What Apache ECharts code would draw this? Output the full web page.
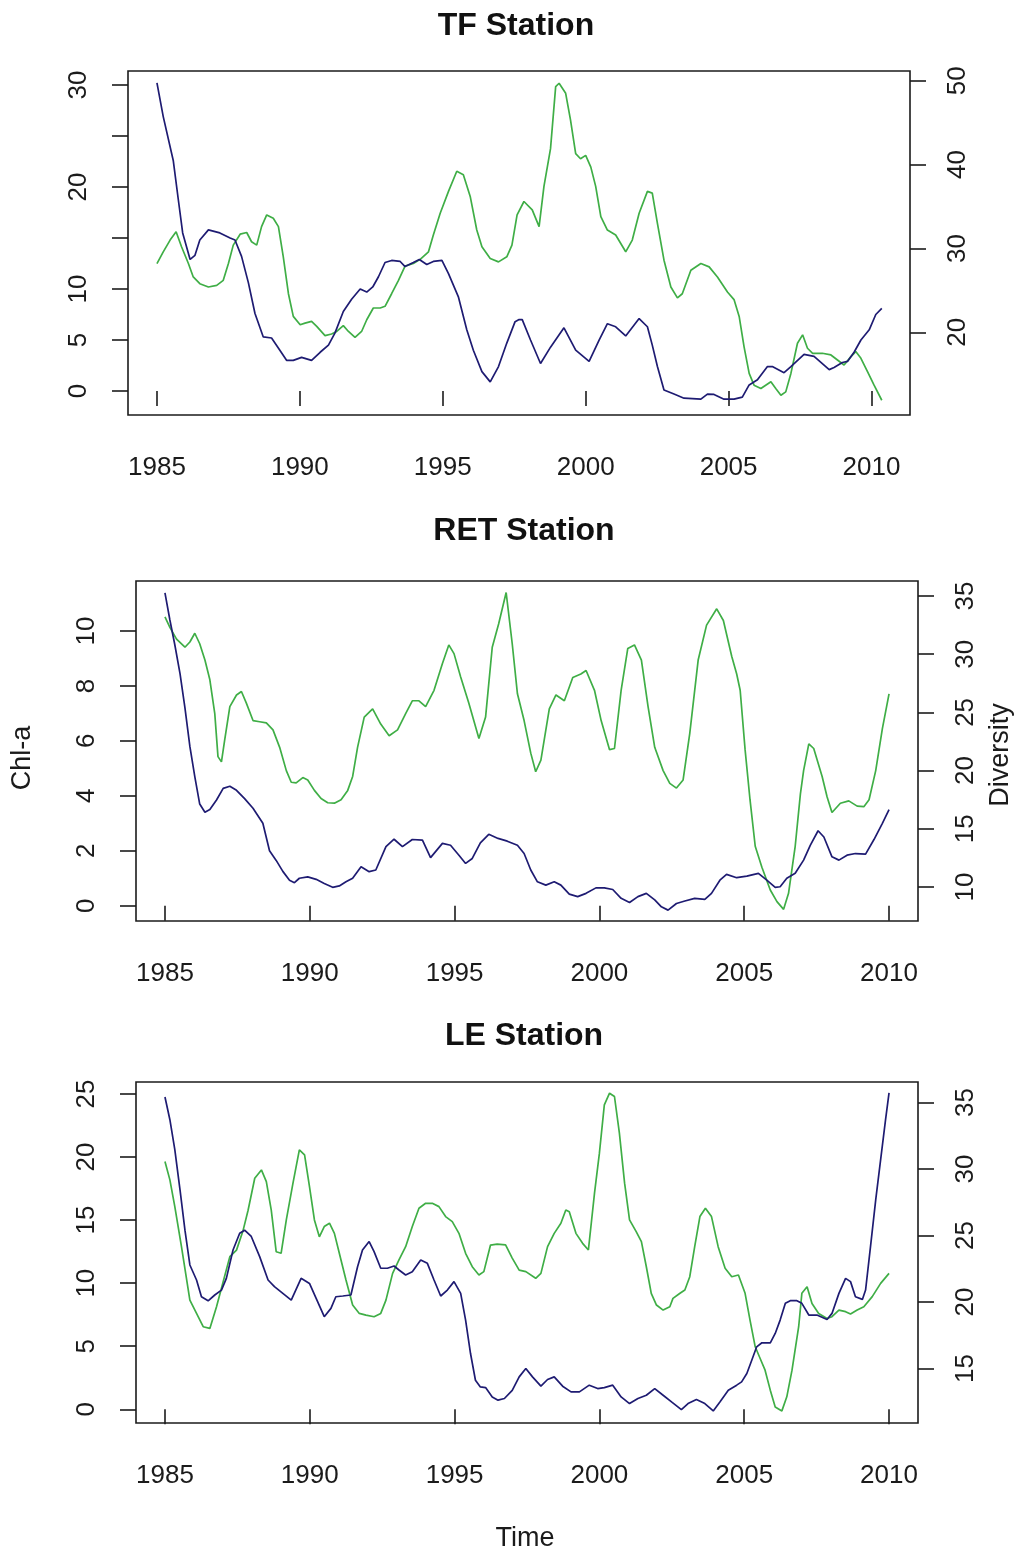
<!DOCTYPE html>
<html>
<head>
<meta charset="utf-8">
<script src="https://cdn.jsdelivr.net/npm/echarts@6/dist/echarts.min.js"></script>
<style>
  html, body { margin: 0; padding: 0; background: #ffffff; }
  #chart { width: 1022px; height: 1556px; }
</style>
</head>
<body>
<div id="chart"></div>
<script>
// ---- tick values ----
const yearTicks = [1985, 1990, 1995, 2000, 2005, 2010];
const tfChlTicks = [0, 5, 10, 15, 20, 25, 30];
const tfChlLabels = [0, 5, 10, 20, 30];
const tfDivTicks = [20, 30, 40, 50];
const retChlTicks = [0, 2, 4, 6, 8, 10];
const retDivTicks = [10, 15, 20, 25, 30, 35];
const leChlTicks = [0, 5, 10, 15, 20, 25];
const leDivTicks = [15, 20, 25, 30, 35];

const stationNames = ['TF Station', 'RET Station', 'LE Station'];

// ---- TF station: [year, value] ----
const tfChla = [
  [1985.0, 30.2], [1985.22, 26.9], [1985.57, 22.6], [1985.75, 18.7], [1985.9, 15.5],
  [1986.16, 12.9], [1986.33, 13.3], [1986.5, 14.8], [1986.8, 15.8], [1987.2, 15.5],
  [1987.56, 15.0], [1987.73, 14.8], [1987.96, 13.2], [1988.2, 10.6], [1988.43, 7.6],
  [1988.72, 5.3], [1989.01, 5.2], [1989.3, 4.0], [1989.54, 3.0], [1989.77, 3.0],
  [1990.06, 3.3], [1990.41, 3.0], [1990.71, 3.8], [1991.0, 4.5], [1991.23, 5.7],
  [1991.52, 7.8], [1991.81, 9.0], [1992.11, 10.0], [1992.34, 9.7], [1992.55, 10.2],
  [1992.75, 11.2], [1992.98, 12.6], [1993.21, 12.8], [1993.51, 12.7], [1993.68, 12.2],
  [1993.97, 12.6], [1994.18, 12.9], [1994.44, 12.4], [1994.67, 12.7], [1994.97, 12.8],
  [1995.2, 11.5], [1995.55, 9.2], [1995.84, 6.0], [1996.07, 4.0], [1996.37, 1.9],
  [1996.66, 0.9], [1996.95, 2.4], [1997.24, 4.7], [1997.53, 6.8], [1997.67, 7.0],
  [1997.78, 7.0], [1998.07, 5.0], [1998.42, 2.7], [1998.77, 4.3], [1999.24, 6.2],
  [1999.65, 4.0], [2000.12, 2.9], [2000.47, 5.0], [2000.76, 6.6], [2001.05, 6.3],
  [2001.4, 5.4], [2001.87, 7.1], [2002.16, 6.3], [2002.33, 4.5], [2002.51, 2.4],
  [2002.74, 0.1], [2003.09, -0.3], [2003.44, -0.7], [2004.03, -0.8], [2004.26, -0.3],
  [2004.49, -0.33], [2004.84, -0.8], [2005.19, -0.8], [2005.48, -0.6], [2005.72, 0.6],
  [2006.01, 1.1], [2006.36, 2.4], [2006.53, 2.4], [2006.94, 1.8], [2007.18, 2.4],
  [2007.64, 3.6], [2007.99, 3.4], [2008.52, 2.1], [2008.69, 2.3], [2008.98, 2.8],
  [2009.16, 2.9], [2009.39, 3.8], [2009.63, 5.0], [2009.92, 6.0], [2010.15, 7.5],
  [2010.36, 8.1]
];
const tfDiversity = [
  [1985.0, 28.2], [1985.22, 29.6], [1985.46, 31.0], [1985.67, 32.0], [1985.86, 30.2],
  [1986.1, 28.2], [1986.27, 26.6], [1986.5, 25.8], [1986.8, 25.4], [1987.09, 25.6],
  [1987.32, 26.2], [1987.5, 28.2], [1987.67, 30.4], [1987.91, 31.7], [1988.14, 31.9],
  [1988.31, 30.8], [1988.49, 30.4], [1988.66, 32.6], [1988.84, 34.0], [1989.07, 33.6],
  [1989.25, 32.6], [1989.42, 29.0], [1989.6, 24.6], [1989.77, 21.9], [1990.01, 20.9],
  [1990.18, 21.1], [1990.41, 21.3], [1990.59, 20.7], [1990.88, 19.6], [1991.11, 19.8],
  [1991.29, 20.1], [1991.52, 20.8], [1991.7, 20.1], [1991.93, 19.4], [1992.16, 20.1],
  [1992.34, 21.5], [1992.57, 22.9], [1992.81, 22.9], [1992.98, 23.1], [1993.21, 24.6],
  [1993.45, 26.2], [1993.68, 27.9], [1993.97, 28.2], [1994.21, 28.7], [1994.5, 29.6],
  [1994.67, 31.6], [1994.91, 34.2], [1995.2, 36.8], [1995.49, 39.2], [1995.72, 38.8],
  [1995.96, 36.2], [1996.19, 32.2], [1996.37, 30.2], [1996.66, 28.8], [1996.95, 28.4],
  [1997.24, 29.0], [1997.42, 30.4], [1997.6, 34.0], [1997.84, 35.6], [1998.13, 34.6],
  [1998.37, 32.6], [1998.54, 37.4], [1998.77, 41.9], [1998.95, 49.3], [1999.07, 49.7],
  [1999.3, 48.5], [1999.47, 45.3], [1999.65, 41.3], [1999.82, 40.7], [2000.0, 41.1],
  [2000.18, 39.7], [2000.35, 37.4], [2000.53, 33.8], [2000.76, 32.2], [2001.05, 31.6],
  [2001.4, 29.6], [2001.63, 31.0], [2001.87, 34.2], [2002.16, 36.8], [2002.33, 36.6],
  [2002.51, 33.0], [2002.74, 28.6], [2002.98, 25.4], [2003.21, 24.1], [2003.38, 24.6],
  [2003.68, 27.4], [2004.03, 28.2], [2004.32, 27.8], [2004.61, 26.6], [2004.96, 24.8],
  [2005.19, 23.9], [2005.37, 21.9], [2005.54, 18.3], [2005.72, 15.1], [2005.89, 13.7],
  [2006.13, 13.3], [2006.48, 14.1], [2006.65, 13.3], [2006.83, 12.5], [2007.0, 12.9],
  [2007.18, 15.1], [2007.41, 18.7], [2007.59, 19.7], [2007.76, 18.1], [2007.94, 17.5],
  [2008.28, 17.5], [2008.58, 17.3], [2008.81, 16.7], [2009.04, 16.1], [2009.28, 17.1],
  [2009.45, 17.7], [2009.63, 16.9], [2009.86, 15.3], [2010.09, 13.7], [2010.36, 11.9]
];

// ---- RET station ----
const retChla = [
  [1985.0, 11.39], [1985.17, 10.4], [1985.34, 9.5], [1985.52, 8.45], [1985.69, 7.2],
  [1985.86, 5.8], [1986.03, 4.7], [1986.2, 3.7], [1986.38, 3.4], [1986.55, 3.5],
  [1986.78, 3.85], [1987.01, 4.27], [1987.24, 4.35], [1987.47, 4.2], [1987.75, 3.9],
  [1988.04, 3.55], [1988.38, 3.0], [1988.61, 2.0], [1988.84, 1.65], [1989.07, 1.25],
  [1989.3, 0.93], [1989.47, 0.84], [1989.64, 1.0], [1989.93, 1.05], [1990.22, 0.96],
  [1990.5, 0.81], [1990.79, 0.67], [1991.02, 0.72], [1991.25, 0.87], [1991.48, 1.0],
  [1991.77, 1.42], [1992.05, 1.24], [1992.28, 1.3], [1992.63, 2.15], [1992.91, 2.42],
  [1993.2, 2.15], [1993.54, 2.41], [1993.89, 2.39], [1994.17, 1.75], [1994.58, 2.27],
  [1994.86, 2.2], [1995.15, 1.84], [1995.38, 1.54], [1995.61, 1.72], [1995.89, 2.29],
  [1996.18, 2.6], [1996.5, 2.45], [1996.82, 2.35], [1997.17, 2.2], [1997.4, 1.9],
  [1997.63, 1.3], [1997.86, 0.87], [1998.15, 0.75], [1998.44, 0.87], [1998.67, 0.75],
  [1998.96, 0.42], [1999.25, 0.33], [1999.54, 0.45], [1999.88, 0.65], [2000.17, 0.65],
  [2000.46, 0.59], [2000.75, 0.27], [2001.04, 0.12], [2001.33, 0.33], [2001.62, 0.45],
  [2001.91, 0.21], [2002.14, -0.04], [2002.37, -0.16], [2002.66, 0.08], [2002.95, 0.17],
  [2003.29, 0.27], [2003.64, 0.23], [2003.87, 0.45], [2004.16, 0.93], [2004.39, 1.14],
  [2004.74, 1.02], [2005.09, 1.08], [2005.49, 1.18], [2005.78, 0.93], [2006.07, 0.67],
  [2006.24, 0.69], [2006.47, 1.0], [2006.76, 1.18], [2007.05, 1.66], [2007.28, 2.2],
  [2007.55, 2.73], [2007.75, 2.5], [2008.03, 1.78], [2008.27, 1.66], [2008.55, 1.84],
  [2008.84, 1.9], [2009.19, 1.88], [2009.48, 2.41], [2009.77, 3.0], [2010.0, 3.5]
];
const retDiversity = [
  [1985.0, 33.2], [1985.17, 32.3], [1985.4, 31.3], [1985.69, 30.6], [1985.86, 31.05],
  [1986.03, 31.8], [1986.2, 30.9], [1986.38, 29.5], [1986.55, 27.8], [1986.72, 24.9],
  [1986.83, 21.2], [1986.95, 20.75], [1987.06, 22.6], [1987.24, 25.5], [1987.47, 26.5],
  [1987.64, 26.8], [1987.81, 25.8], [1988.04, 24.3], [1988.27, 24.2], [1988.5, 24.1],
  [1988.73, 23.5], [1988.96, 22.0], [1989.19, 20.0], [1989.36, 19.0], [1989.53, 18.95],
  [1989.76, 19.4], [1989.93, 19.2], [1990.16, 18.3], [1990.39, 17.6], [1990.62, 17.24],
  [1990.85, 17.2], [1991.08, 17.5], [1991.31, 18.3], [1991.48, 19.5], [1991.65, 22.0],
  [1991.88, 24.6], [1992.17, 25.3], [1992.45, 24.0], [1992.74, 23.0], [1993.03, 23.5],
  [1993.31, 24.9], [1993.54, 26.0], [1993.77, 26.0], [1994.0, 25.5], [1994.29, 26.9],
  [1994.58, 29.2], [1994.8, 30.8], [1994.98, 30.05], [1995.21, 28.05], [1995.49, 25.8],
  [1995.84, 22.75], [1996.07, 24.6], [1996.3, 30.6], [1996.52, 32.6], [1996.78, 35.3],
  [1996.99, 30.9], [1997.17, 26.6], [1997.4, 24.3], [1997.63, 21.5], [1997.8, 19.9],
  [1997.98, 20.9], [1998.27, 25.3], [1998.5, 26.5], [1998.79, 26.0], [1999.08, 28.0],
  [1999.36, 28.3], [1999.54, 28.6], [1999.83, 26.9], [2000.06, 24.3], [2000.35, 21.8],
  [2000.52, 21.9], [2000.75, 26.9], [2000.98, 30.5], [2001.21, 30.8], [2001.45, 29.5],
  [2001.68, 25.5], [2001.91, 22.0], [2002.2, 20.0], [2002.43, 18.9], [2002.66, 18.5],
  [2002.89, 19.2], [2003.12, 23.2], [2003.41, 29.5], [2003.7, 32.5], [2004.05, 33.9],
  [2004.28, 32.9], [2004.57, 29.8], [2004.74, 28.3], [2004.86, 26.9], [2005.03, 21.8],
  [2005.2, 17.5], [2005.38, 13.5], [2005.61, 11.7], [2005.9, 9.74], [2006.13, 8.74],
  [2006.36, 8.08], [2006.53, 9.46], [2006.76, 13.5], [2006.94, 18.0], [2007.05, 20.0],
  [2007.23, 22.3], [2007.4, 21.9], [2007.69, 19.5], [2007.86, 17.75], [2008.03, 16.4],
  [2008.32, 17.2], [2008.61, 17.4], [2008.9, 16.95], [2009.13, 16.9], [2009.31, 17.5],
  [2009.54, 20.0], [2009.77, 23.6], [2010.0, 26.6]
];

// ---- LE station ----
const leChla = [
  [1985.0, 24.76], [1985.17, 22.96], [1985.34, 20.58], [1985.52, 17.4], [1985.69, 14.2],
  [1985.86, 11.44], [1986.09, 10.25], [1986.26, 8.92], [1986.49, 8.6], [1986.72, 9.06],
  [1986.95, 9.45], [1987.12, 10.38], [1987.35, 12.63], [1987.58, 13.96], [1987.75, 14.2],
  [1987.98, 13.7], [1988.27, 12.1], [1988.56, 10.25], [1988.78, 9.72], [1989.07, 9.19],
  [1989.36, 8.66], [1989.7, 10.38], [1989.99, 9.98], [1990.22, 8.79], [1990.5, 7.34],
  [1990.73, 8.0], [1990.9, 8.92], [1991.14, 8.98], [1991.42, 9.06], [1991.65, 11.3],
  [1991.82, 12.63], [1992.05, 13.3], [1992.22, 12.5], [1992.45, 11.18], [1992.68, 11.18],
  [1992.91, 11.36], [1993.08, 11.04], [1993.31, 10.65], [1993.54, 10.9], [1993.83, 11.84],
  [1994.06, 11.57], [1994.29, 10.25], [1994.52, 8.98], [1994.75, 9.45], [1994.98, 10.12],
  [1995.21, 9.19], [1995.38, 7.07], [1995.55, 4.42], [1995.72, 2.3], [1995.89, 1.77],
  [1996.07, 1.72], [1996.3, 0.98], [1996.5, 0.72], [1996.72, 0.85], [1996.99, 1.5],
  [1997.23, 2.57], [1997.46, 3.23], [1997.69, 2.57], [1997.98, 1.83], [1998.21, 2.36],
  [1998.44, 2.57], [1998.73, 1.83], [1999.02, 1.38], [1999.31, 1.38], [1999.65, 1.91],
  [1999.94, 1.64], [2000.17, 1.72], [2000.46, 1.91], [2000.75, 0.98], [2001.04, 0.45],
  [2001.33, 0.85], [2001.62, 1.11], [2001.91, 1.64], [2002.2, 1.11], [2002.49, 0.58],
  [2002.83, -0.03], [2003.06, 0.45], [2003.35, 0.77], [2003.64, 0.45], [2003.93, -0.13],
  [2004.16, 0.58], [2004.45, 1.51], [2004.74, 1.91], [2004.91, 2.17], [2005.09, 2.83],
  [2005.26, 3.89], [2005.43, 4.95], [2005.61, 5.27], [2005.9, 5.27], [2006.07, 6.01],
  [2006.24, 7.07], [2006.42, 8.4], [2006.59, 8.61], [2006.82, 8.61], [2006.99, 8.4],
  [2007.23, 7.47], [2007.51, 7.47], [2007.86, 7.12], [2008.03, 7.6], [2008.27, 9.19],
  [2008.5, 10.38], [2008.67, 10.12], [2008.84, 8.92], [2009.08, 8.71], [2009.19, 9.45],
  [2009.36, 12.9], [2009.54, 16.6], [2009.71, 19.8], [2009.88, 22.96], [2010.0, 25.08]
];
const leDiversity = [
  [1985.0, 30.56], [1985.17, 29.18], [1985.34, 27.17], [1985.57, 24.16], [1985.86, 20.14],
  [1986.09, 19.14], [1986.32, 18.14], [1986.55, 18.01], [1986.78, 19.64], [1987.01, 21.52],
  [1987.24, 23.41], [1987.47, 23.9], [1987.7, 25.4], [1987.87, 26.9], [1988.1, 29.3],
  [1988.33, 29.93], [1988.5, 29.05], [1988.67, 26.9], [1988.84, 23.78], [1989.01, 23.66],
  [1989.19, 26.17], [1989.42, 28.93], [1989.64, 31.44], [1989.82, 31.06], [1989.99, 28.68],
  [1990.16, 26.17], [1990.33, 24.9], [1990.5, 25.67], [1990.68, 25.92], [1990.85, 25.16],
  [1991.02, 23.66], [1991.25, 21.65], [1991.48, 19.77], [1991.71, 19.14], [1991.94, 19.01],
  [1992.22, 18.89], [1992.45, 19.14], [1992.63, 20.14], [1992.86, 22.15], [1993.08, 23.16],
  [1993.31, 24.16], [1993.54, 25.67], [1993.77, 27.05], [1994.0, 27.42], [1994.23, 27.42],
  [1994.46, 27.17], [1994.69, 26.42], [1994.92, 26.04], [1995.15, 25.16], [1995.38, 23.66],
  [1995.61, 22.65], [1995.84, 22.03], [1996.01, 22.28], [1996.24, 24.28], [1996.47, 24.35],
  [1996.76, 24.3], [1996.99, 23.3], [1997.23, 22.4], [1997.46, 22.28], [1997.8, 21.78],
  [1997.98, 22.15], [1998.21, 24.16], [1998.44, 25.16], [1998.67, 25.92], [1998.84, 26.92],
  [1998.96, 26.79], [1999.19, 25.16], [1999.42, 24.41], [1999.62, 23.91], [1999.83, 28.17],
  [2000.0, 31.19], [2000.17, 34.82], [2000.35, 35.7], [2000.52, 35.45], [2000.69, 32.69],
  [2000.87, 28.93], [2001.04, 26.17], [2001.27, 25.29], [2001.45, 24.54], [2001.62, 22.65],
  [2001.79, 20.64], [2001.97, 19.77], [2002.2, 19.39], [2002.43, 19.64], [2002.54, 20.27],
  [2002.77, 20.64], [2002.95, 20.9], [2003.12, 21.9], [2003.29, 24.16], [2003.47, 26.42],
  [2003.66, 27.05], [2003.87, 26.42], [2004.1, 24.16], [2004.34, 22.53], [2004.57, 21.9],
  [2004.8, 22.03], [2005.03, 20.65], [2005.2, 18.64], [2005.38, 16.63], [2005.55, 15.75],
  [2005.72, 14.87], [2005.9, 13.37], [2006.07, 12.11], [2006.3, 11.81], [2006.47, 12.87],
  [2006.65, 14.87], [2006.88, 18.14], [2006.99, 20.65], [2007.17, 21.15], [2007.34, 19.89],
  [2007.57, 19.14], [2007.86, 18.76], [2008.03, 18.89], [2008.27, 19.39], [2008.5, 19.27],
  [2008.67, 19.09], [2008.9, 19.39], [2009.13, 19.64], [2009.42, 20.4], [2009.71, 21.4],
  [2010.0, 22.15]
];

// ---- drawing ----
const FONT = "'Liberation Sans', Arial, Helvetica, sans-serif";
const INK = '#1b1b1b';
const CHL_COLOR = '#1e1b72';
const DIV_COLOR = '#3fae46';
const plain = (v) => String(v);

// plot boxes (px) and axis ranges, following R's 4% padding around the data
const panels = [
  { box: [128, 71, 782, 344], x: [1983.987, 2011.347],
    left: { range: [-2.35, 31.37], ticks: tfChlTicks, labels: tfChlLabels },
    right: { range: [10.14, 51.16], ticks: tfDivTicks, labels: tfDivTicks },
    chl: tfChla, div: tfDiversity, title: [516, 26] },
  { box: [136, 581, 782, 340], x: [1984, 2011],
    left: { range: [-0.556, 11.82], ticks: retChlTicks, labels: retChlTicks },
    right: { range: [7.08, 36.29], ticks: retDivTicks, labels: retDivTicks },
    chl: retChla, div: retDiversity, title: [524, 531] },
  { box: [136, 1082, 782, 341], x: [1984, 2011],
    left: { range: [-1.09, 25.95], ticks: leChlTicks, labels: leChlTicks },
    right: { range: [10.9, 36.54], ticks: leDivTicks, labels: leDivTicks },
    chl: leChla, div: leDiversity, title: [524, 1036] }
];

const grid = [], xAxis = [], yAxis = [], series = [], graphic = [];

panels.forEach((p, i) => {
  grid.push({
    left: p.box[0], top: p.box[1], width: p.box[2], height: p.box[3],
    show: true, borderColor: INK, borderWidth: 1.6, backgroundColor: 'transparent'
  });
  xAxis.push({
    type: 'value', gridIndex: i, min: p.x[0], max: p.x[1], offset: 3,
    splitLine: { show: false },
    axisLine: { show: false },
    axisTick: { show: true, length: 15, customValues: yearTicks, lineStyle: { color: INK, width: 1.6 } },
    axisLabel: { customValues: yearTicks, formatter: plain, margin: 37, fontSize: 26,
                 color: INK, fontFamily: FONT }
  });
  const side = (pos, cfg) => ({
    type: 'value', gridIndex: i, position: pos, min: cfg.range[0], max: cfg.range[1],
    splitLine: { show: false },
    axisLine: { show: false },
    axisTick: { show: true, length: 16, customValues: cfg.ticks, lineStyle: { color: INK, width: 1.6 } },
    axisLabel: { customValues: cfg.labels, formatter: plain, rotate: 90,
                 margin: pos === 'left' ? 36 : 35, fontSize: 26, color: INK, fontFamily: FONT }
  });
  yAxis.push(side('left', p.left));
  yAxis.push(side('right', p.right));
  const lineSeries = (data, yIdx, color, z) => ({
    type: 'line', xAxisIndex: i, yAxisIndex: yIdx, data: data,
    showSymbol: false, symbol: 'none', smooth: false, z: z,
    lineStyle: { color: color, width: 1.7 }, emphasis: { disabled: true }
  });
  series.push(lineSeries(p.chl, 2 * i, CHL_COLOR, 3));
  series.push(lineSeries(p.div, 2 * i + 1, DIV_COLOR, 2));
  graphic.push({
    type: 'text', x: p.title[0], y: p.title[1], silent: true,
    style: { text: stationNames[i], textAlign: 'center', textVerticalAlign: 'middle',
             fontSize: 32, fontWeight: 'bold', fontFamily: FONT, fill: '#111' }
  });
});

// axis titles
graphic.push({
  type: 'text', x: 23, y: 758, rotation: Math.PI / 2, silent: true,
  style: { text: 'Chl-a', textAlign: 'center', textVerticalAlign: 'middle',
           fontSize: 27, fontFamily: FONT, fill: INK }
});
graphic.push({
  type: 'text', x: 1001, y: 755, rotation: Math.PI / 2, silent: true,
  style: { text: 'Diversity', textAlign: 'center', textVerticalAlign: 'middle',
           fontSize: 27, fontFamily: FONT, fill: INK }
});
graphic.push({
  type: 'text', x: 525, y: 1539, silent: true,
  style: { text: 'Time', textAlign: 'center', textVerticalAlign: 'middle',
           fontSize: 27, fontFamily: FONT, fill: INK }
});

const chart = echarts.init(document.getElementById('chart'), null, { renderer: 'canvas' });
chart.setOption({
  backgroundColor: '#ffffff',
  animation: false,
  grid: grid,
  xAxis: xAxis,
  yAxis: yAxis,
  series: series,
  graphic: graphic
});
</script>
</body>
</html>
